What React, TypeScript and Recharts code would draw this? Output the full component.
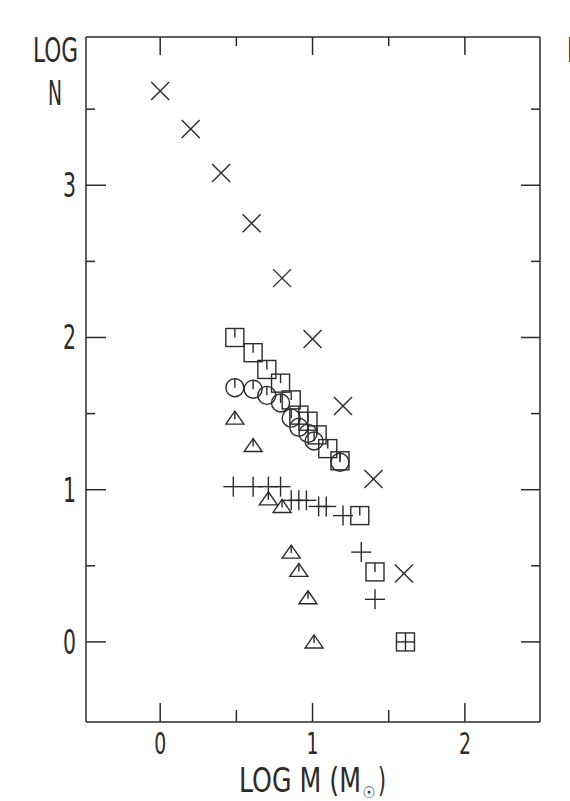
import { ScatterChart, Scatter, XAxis, YAxis } from "recharts";

// log M vs log N
const crossPts = [
  [0.0, 3.62], [0.2, 3.37], [0.4, 3.08], [0.6, 2.75], [0.8, 2.39],
  [1.0, 1.99], [1.2, 1.55], [1.4, 1.07], [1.6, 0.45],
];
const squarePts = [
  [0.49, 2.0], [0.61, 1.9], [0.7, 1.79], [0.79, 1.7], [0.86, 1.59], [0.91, 1.49],
  [0.97, 1.45], [1.03, 1.36], [1.1, 1.27], [1.18, 1.19], [1.31, 0.83], [1.41, 0.46],
];
const circlePts = [
  [0.49, 1.67], [0.61, 1.66], [0.7, 1.62], [0.79, 1.57], [0.86, 1.47],
  [0.91, 1.41], [0.97, 1.37], [1.01, 1.32], [1.18, 1.18],
];
const trianglePts = [
  [0.49, 1.47], [0.61, 1.29], [0.71, 0.94], [0.8, 0.89],
  [0.86, 0.59], [0.91, 0.47], [0.97, 0.29], [1.01, 0.0],
];
const plusPts = [
  [0.48, 1.02], [0.61, 1.02], [0.71, 1.02], [0.79, 1.02], [0.86, 0.93], [0.91, 0.93],
  [0.96, 0.93], [1.04, 0.89], [1.09, 0.89], [1.2, 0.83], [1.32, 0.59], [1.41, 0.28],
];
const boxPlusPts = [[1.61, 0.0]];

const xMajor = [0, 1, 2];
const xMinor = [0.5, 1.5];
const yMajor = [0, 1, 2, 3];
const yMinor = [0.5, 1.5, 2.5, 3.5];

const X0 = -0.487;
const X1 = 2.493;
const Y0 = -0.526;
const Y1 = 3.974;

const INK = "#2b2b2b";
const FONT = "'Liberation Sans Narrow', 'DejaVu Sans Condensed', 'DejaVu Sans', sans-serif";

// frame edges (px)
const LEFT = 86;
const RIGHT = 540;
const TOP = 37;
const BOTTOM = 722;

const toRows = (pts: number[][]) => pts.map(([x, y]) => ({ x, y }));

const Cross = (p: any) => {
  const { cx, cy } = p;
  return (
    <g stroke={INK} strokeWidth={1.4}>
      <line x1={cx - 9} y1={cy - 9} x2={cx + 9} y2={cy + 9} />
      <line x1={cx - 9} y1={cy + 9} x2={cx + 9} y2={cy - 9} />
    </g>
  );
};
const Square = (p: any) => {
  const { cx, cy } = p;
  return (
    <g stroke={INK} strokeWidth={1.4} fill="none">
      <rect x={cx - 9} y={cy - 9} width={18} height={18} />
      <line x1={cx} y1={cy - 9} x2={cx} y2={cy} />
    </g>
  );
};
const Ring = (p: any) => {
  const { cx, cy } = p;
  return (
    <g stroke={INK} strokeWidth={1.4} fill="none">
      <circle cx={cx} cy={cy} r={9} />
      <line x1={cx} y1={cy - 9} x2={cx} y2={cy} />
    </g>
  );
};
const Tri = (p: any) => {
  const { cx, cy } = p;
  return (
    <g stroke={INK} strokeWidth={1.4} fill="none">
      <polygon points={`${cx},${cy - 7} ${cx - 9},${cy + 6} ${cx + 9},${cy + 6}`} />
      <line x1={cx} y1={cy - 7} x2={cx} y2={cy + 1} />
    </g>
  );
};
const Plus = (p: any) => {
  const { cx, cy } = p;
  return (
    <g stroke={INK} strokeWidth={1.4}>
      <line x1={cx - 10} y1={cy} x2={cx + 10} y2={cy} />
      <line x1={cx} y1={cy - 10} x2={cx} y2={cy + 10} />
    </g>
  );
};
const BoxPlus = (p: any) => {
  const { cx, cy } = p;
  return (
    <g stroke={INK} strokeWidth={1.4} fill="none">
      <rect x={cx - 9} y={cy - 9} width={18} height={18} />
      <line x1={cx - 9} y1={cy} x2={cx + 9} y2={cy} />
      <line x1={cx} y1={cy - 9} x2={cx} y2={cy + 9} />
    </g>
  );
};

// inward tick mark: a short line from the frame point in direction (dx, dy)
const TickMark = (p: any) => {
  const { cx, cy, payload } = p;
  return (
    <line x1={cx} y1={cy} x2={cx + payload.dx} y2={cy + payload.dy}
      stroke={INK} strokeWidth={1.5} />
  );
};

const tickRows = [
  ...yMajor.flatMap((v) => [
    { x: X0, y: v, dx: 20, dy: 0 },
    { x: X1, y: v, dx: -19, dy: 0 },
  ]),
  ...yMinor.flatMap((v) => [
    { x: X0, y: v, dx: 9, dy: 0 },
    { x: X1, y: v, dx: -9, dy: 0 },
  ]),
  ...xMajor.flatMap((v) => [
    { x: v, y: Y0, dx: 0, dy: -19 },
    { x: v, y: Y1, dx: 0, dy: 18 },
  ]),
  ...xMinor.flatMap((v) => [
    { x: v, y: Y0, dx: 0, dy: -12 },
    { x: v, y: Y1, dx: 0, dy: 9 },
  ]),
];

const LeftLabel = (p: any) => (
  <text x={76} y={Number(p.payload.coordinate) + 12} textAnchor="end" fontFamily={FONT}
    fontSize={33} fill={INK} textLength={13} lengthAdjust="spacingAndGlyphs">
    {p.payload.value}
  </text>
);
const BottomLabel = (p: any) => (
  <text x={Number(p.payload.coordinate)} y={754} textAnchor="middle" fontFamily={FONT}
    fontSize={31} fill={INK} textLength={12} lengthAdjust="spacingAndGlyphs">
    {p.payload.value}
  </text>
);

const axisStyle = { stroke: INK, strokeWidth: 1.5 };

export default function App() {
  const W = 570;
  const H = 801;
  return (
    <div style={{ position: "absolute", left: 0, top: 0, width: W, height: H, background: "#fff" }}>
      <ScatterChart width={W} height={H}
        margin={{ top: TOP - 1, right: W - RIGHT - 1, bottom: H - BOTTOM - 1, left: LEFT - 1 }}>
        <XAxis xAxisId="b" type="number" dataKey="x" orientation="bottom" height={1}
          domain={[X0, X1]} ticks={xMajor} interval={0} axisLine={axisStyle}
          tickLine={false} tickSize={0} tickMargin={0}
          tick={(props: any) => <BottomLabel {...props} />} />
        <XAxis xAxisId="t" type="number" orientation="top" height={1}
          domain={[X0, X1]} ticks={xMajor} axisLine={axisStyle} tickLine={false} tick={false} />
        <YAxis yAxisId="l" type="number" dataKey="y" orientation="left" width={1}
          domain={[Y0, Y1]} ticks={yMajor} interval={0} axisLine={axisStyle}
          tickLine={false} tickSize={0} tickMargin={0}
          tick={(props: any) => <LeftLabel {...props} />} />
        <YAxis yAxisId="r" type="number" orientation="right" width={1}
          domain={[Y0, Y1]} ticks={yMajor} axisLine={axisStyle} tickLine={false} tick={false} />

        <Scatter xAxisId="b" yAxisId="l" data={tickRows} shape={<TickMark />} isAnimationActive={false} />

        <Scatter xAxisId="b" yAxisId="l" data={toRows(crossPts)} shape={<Cross />} isAnimationActive={false} />
        <Scatter xAxisId="b" yAxisId="l" data={toRows(squarePts)} shape={<Square />} isAnimationActive={false} />
        <Scatter xAxisId="b" yAxisId="l" data={toRows(circlePts)} shape={<Ring />} isAnimationActive={false} />
        <Scatter xAxisId="b" yAxisId="l" data={toRows(trianglePts)} shape={<Tri />} isAnimationActive={false} />
        <Scatter xAxisId="b" yAxisId="l" data={toRows(plusPts)} shape={<Plus />} isAnimationActive={false} />
        <Scatter xAxisId="b" yAxisId="l" data={toRows(boxPlusPts)} shape={<BoxPlus />} isAnimationActive={false} />
      </ScatterChart>

      {/* axis titles */}
      <svg width={W} height={H} style={{ position: "absolute", left: 0, top: 0, pointerEvents: "none" }}>
        <g fontFamily={FONT} fill={INK}>
          <text x={33} y={62} fontSize={34} textLength={45} lengthAdjust="spacingAndGlyphs">LOG</text>
          <text x={48} y={105} fontSize={34} textLength={14} lengthAdjust="spacingAndGlyphs">N</text>
          <text x={239} y={792} fontSize={34} textLength={122} lengthAdjust="spacingAndGlyphs">LOG M (M</text>
          <text x={369} y={798} fontSize={16} textAnchor="middle">☉</text>
          <text x={378} y={792} fontSize={34} textLength={8} lengthAdjust="spacingAndGlyphs">)</text>
          <text x={567} y={62} fontSize={34} textLength={45} lengthAdjust="spacingAndGlyphs">LOG</text>
        </g>
      </svg>
    </div>
  );
}
